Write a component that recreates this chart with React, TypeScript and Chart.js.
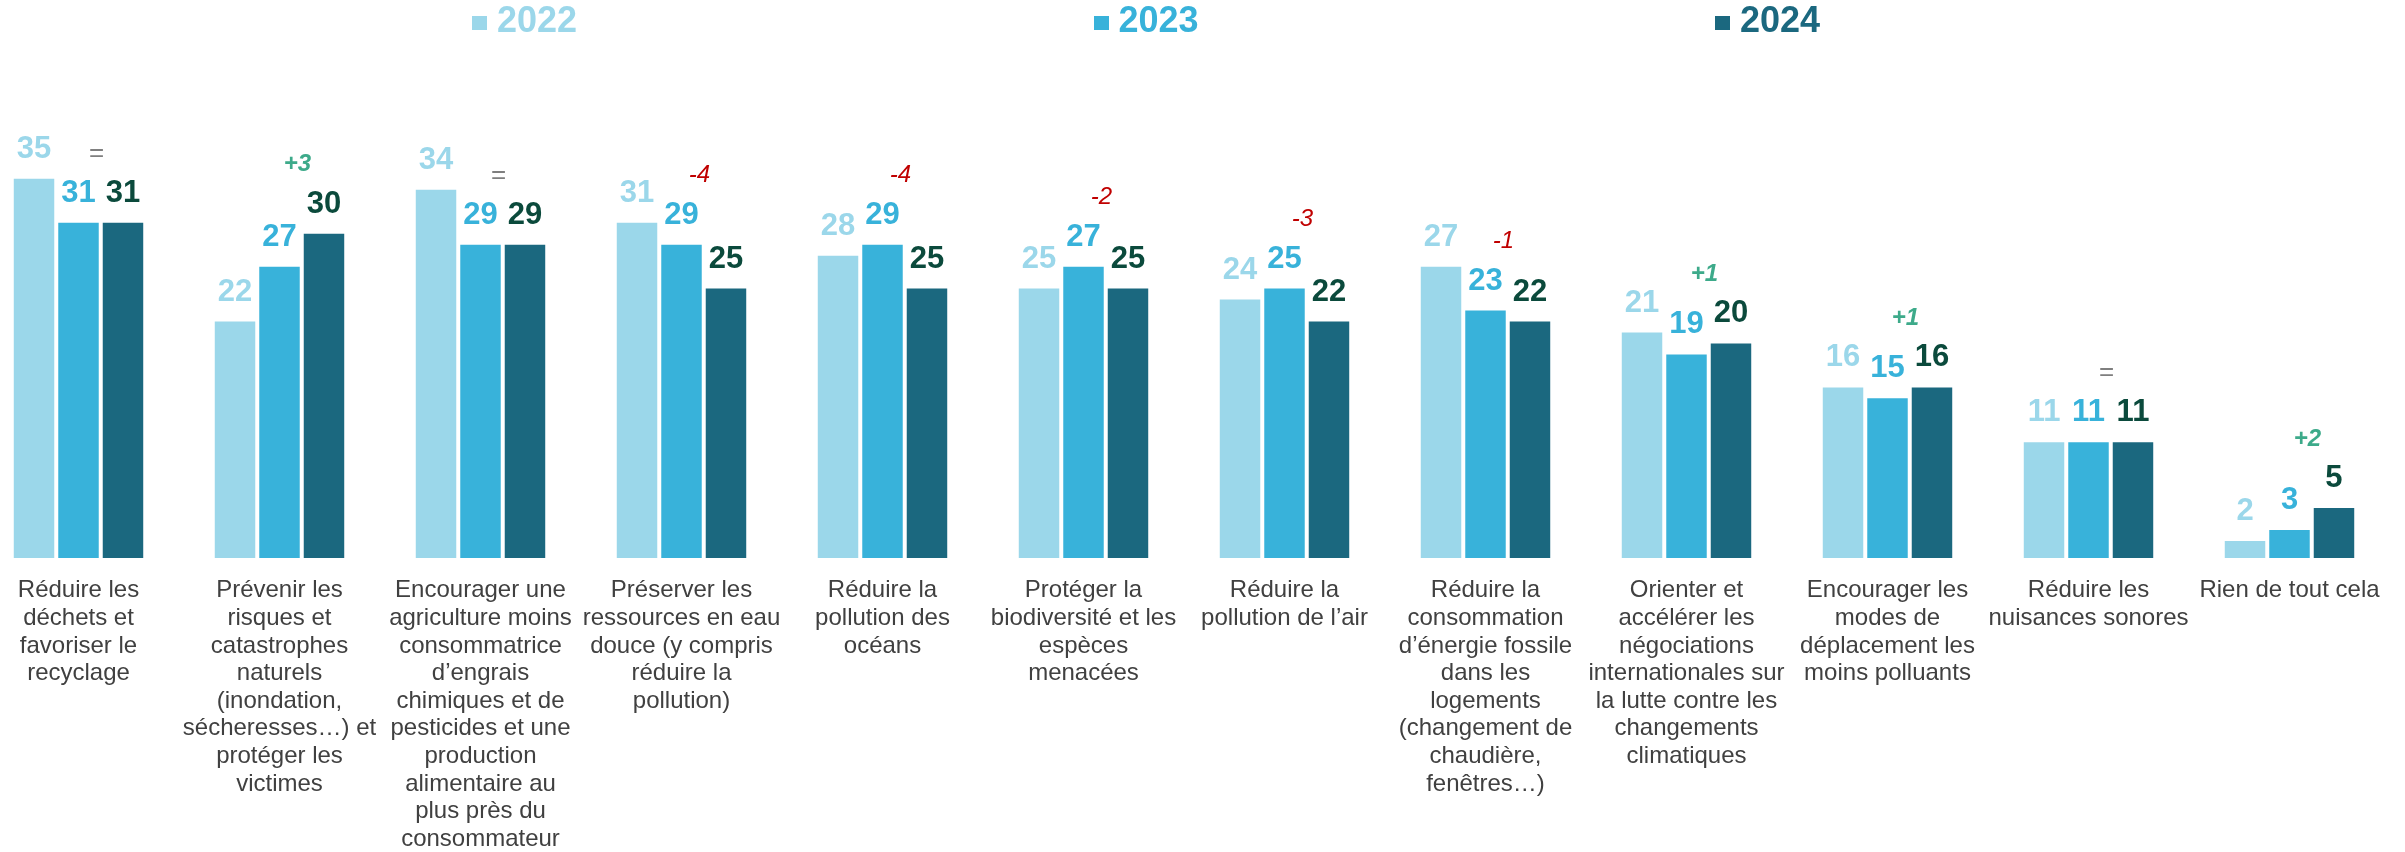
import React, { useEffect, useRef } from "react";
import { Chart, registerables } from "chart.js";

Chart.register(...registerables);

const categories: string[][] = [
  ["Réduire les", "déchets et", "favoriser le", "recyclage"],
  ["Prévenir les", "risques et", "catastrophes", "naturels", "(inondation,", "sécheresses…) et", "protéger les", "victimes"],
  ["Encourager une", "agriculture moins", "consommatrice", "d’engrais", "chimiques et de", "pesticides et une", "production", "alimentaire au", "plus près du", "consommateur"],
  ["Préserver les", "ressources en eau", "douce (y compris", "réduire la", "pollution)"],
  ["Réduire la", "pollution des", "océans"],
  ["Protéger la", "biodiversité et les", "espèces", "menacées"],
  ["Réduire la", "pollution de l’air"],
  ["Réduire la", "consommation", "d’énergie fossile", "dans les", "logements", "(changement de", "chaudière,", "fenêtres…)"],
  ["Orienter et", "accélérer les", "négociations", "internationales sur", "la lutte contre les", "changements", "climatiques"],
  ["Encourager les", "modes de", "déplacement les", "moins polluants"],
  ["Réduire les", "nuisances sonores"],
  ["Rien de tout cela"],
];

const seriesNames = ["2022", "2023", "2024"];
const values2022 = [35, 22, 34, 31, 28, 25, 24, 27, 21, 16, 11, 2];
const values2023 = [31, 27, 29, 29, 29, 27, 25, 23, 19, 15, 11, 3];
const values2024 = [31, 30, 29, 25, 25, 25, 22, 22, 20, 16, 11, 5];

const FONT = "'Liberation Sans', Arial, Helvetica, sans-serif";
const barColors = ["#9BD7EA", "#38B2DA", "#1B687F"];
const valueColors = ["#9BD7EA", "#38B2DA", "#0B4A3C"];
const legendColors = ["#9BD7EA", "#38B2DA", "#1B687F"];

const changeText = (i: number) => {
  const d = values2024[i] - values2023[i];
  if (d === 0) return "=";
  return d > 0 ? `+${d}` : `${d}`;
};

const labelsPlugin = {
  id: "valueLabels",
  afterDatasetsDraw(chart: any) {
    const ctx = chart.ctx as CanvasRenderingContext2D;
    ctx.save();
    ctx.textAlign = "center";
    ctx.textBaseline = "alphabetic";
    ctx.font = `bold 31px ${FONT}`;
    chart.data.datasets.forEach((ds: any, di: number) => {
      const meta = chart.getDatasetMeta(di);
      meta.data.forEach((el: any, i: number) => {
        ctx.fillStyle = valueColors[di];
        ctx.fillText(String(ds.data[i]), el.x, el.y - 21);
      });
    });
    const m1 = chart.getDatasetMeta(1);
    const m2 = chart.getDatasetMeta(2);
    ctx.textBaseline = "middle";
    values2024.forEach((_, i) => {
      const t = changeText(i);
      const e1 = m1.data[i];
      const e2 = m2.data[i];
      const x = e1.x + 18;
      const y = Math.min(e1.y, e2.y) - 69;
      if (t === "=") {
        ctx.font = `26px ${FONT}`;
        ctx.fillStyle = "#7F7F7F";
      } else if (t.startsWith("+")) {
        ctx.font = `italic bold 24px ${FONT}`;
        ctx.fillStyle = "#3DAA8A";
      } else {
        ctx.font = `italic 24px ${FONT}`;
        ctx.fillStyle = "#C00000";
      }
      ctx.fillText(t, x, y);
    });
    ctx.restore();
  },
};

export default function App() {
  const ref = useRef<HTMLCanvasElement>(null);
  useEffect(() => {
    const series = [values2022, values2023, values2024];
    const chart = new Chart(ref.current as HTMLCanvasElement, {
      type: "bar",
      data: {
        labels: categories as any,
        datasets: series.map((d, i) => ({
          label: seriesNames[i],
          data: d,
          backgroundColor: barColors[i],
          borderWidth: 0,
          categoryPercentage: 0.664,
          barPercentage: 0.91,
        })),
      },
      options: {
        animation: false,
        responsive: true,
        maintainAspectRatio: false,
        layout: { padding: { top: 124, left: 18, right: 15, bottom: 0 } },
        plugins: { legend: { display: false }, tooltip: { enabled: false } },
        scales: {
          x: {
            grid: { display: false, drawTicks: false },
            border: { display: false },
            ticks: {
              autoSkip: false,
              maxRotation: 0,
              minRotation: 0,
              padding: 19,
              color: "#404040",
              font: { family: FONT, size: 24, lineHeight: 1.15 },
            },
          },
          y: { display: false, min: 5 / 11, max: 40 },
        },
      },
      plugins: [labelsPlugin],
    });
    return () => chart.destroy();
  }, []);

  return (
    <div style={{ position: "absolute", left: 0, top: 0, width: 2405, height: 852, overflow: "hidden" }}>
      <div style={{ position: "absolute", left: -40, top: 0, width: 2445, height: 872 }}>
        <canvas ref={ref} />
      </div>
      <div style={{ position: "absolute", left: 472, top: 0, display: "flex" }}>
        {seriesNames.map((n, i) => (
          <div key={n} style={{ width: 621.5, display: "flex", alignItems: "flex-start" }}>
            <div style={{ width: 15, height: 14, marginTop: 16, background: legendColors[i] }} />
            <div
              style={{
                marginLeft: 10,
                fontFamily: FONT,
                fontWeight: "bold",
                fontSize: 36,
                lineHeight: "40px",
                color: legendColors[i],
              }}
            >
              {n}
            </div>
          </div>
        ))}
      </div>
    </div>
  );
}
